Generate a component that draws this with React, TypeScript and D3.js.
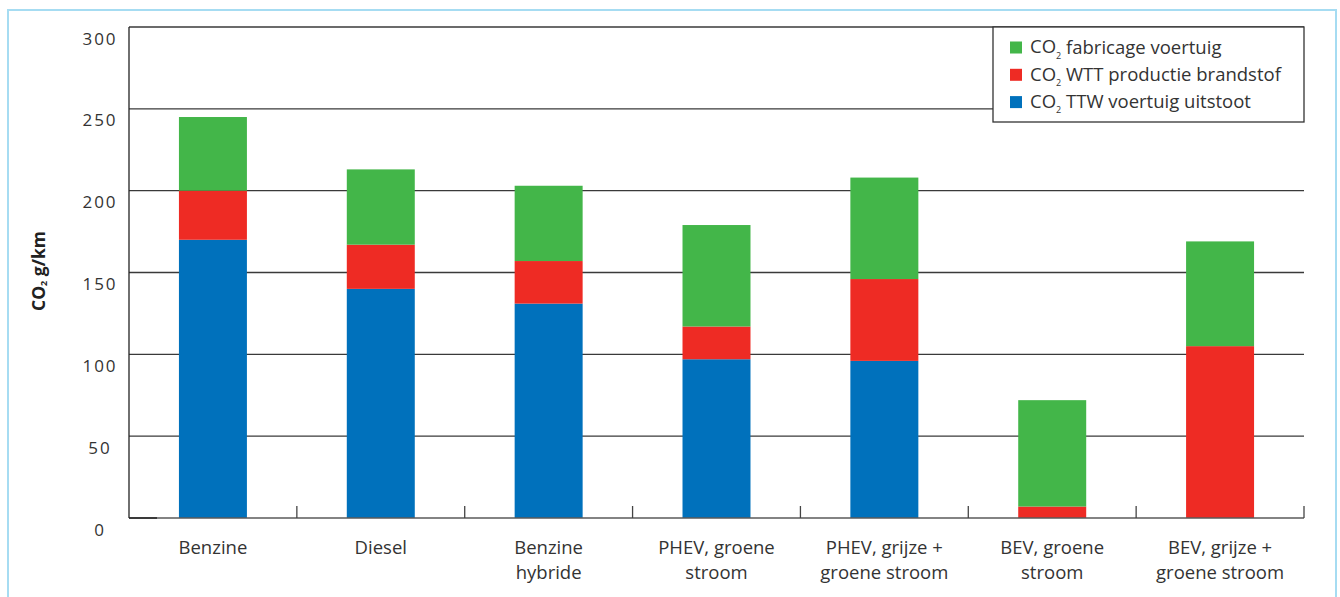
import React from "react";
import * as d3 from "d3";

const categories: string[][] = [
  ["Benzine"],
  ["Diesel"],
  ["Benzine", "hybride"],
  ["PHEV, groene", "stroom"],
  ["PHEV, grijze +", "groene stroom"],
  ["BEV, groene", "stroom"],
  ["BEV, grijze +", "groene stroom"],
];
const ttw = [170, 140, 131, 97, 96, 0, 0];
const wtt = [30, 27, 26, 20, 50, 7, 105];
const fab = [45, 46, 46, 62, 62, 65, 64];
const yTicks = [0, 50, 100, 150, 200, 250, 300];

const seriesKeys = ["ttw", "wtt", "fab"];
const seriesColors: Record<string, string> = { ttw: "#0071bc", wtt: "#ee2b24", fab: "#43b649" };
const legendItems = [
  { key: "fab", label: "fabricage voertuig" },
  { key: "wtt", label: "WTT productie brandstof" },
  { key: "ttw", label: "TTW voertuig uitstoot" },
];

const W = 1340;
const H = 597;
const left = 129;
const right = 1304;
const top = 27;
const bottom = 518;
const font = "'Open Sans', 'Noto Sans', sans-serif";

export default function App() {
  const rows = categories.map((c, i) => ({ name: c.join(" "), ttw: ttw[i], wtt: wtt[i], fab: fab[i] }));
  const stack = d3.stack<any>().keys(seriesKeys);
  const stacked = stack(rows);
  const x = d3.scaleBand<string>().domain(rows.map((r) => r.name)).range([left, right]).paddingInner(0).paddingOuter(0);
  const y = d3.scaleLinear().domain([0, 300]).range([bottom, top]);
  const bw = x.bandwidth() * 0.405;

  return (
    <svg width={W} height={H} style={{ position: "absolute", left: 0, top: 0, background: "#fff" }} fontFamily={font}>
      <rect x={8} y={10} width={1328} height={600} fill="none" stroke="#a6dcf2" strokeWidth={2} />
      {/* gridlines */}
      {yTicks.filter((t) => t > 0).map((t) => (
        <line key={t} x1={left} x2={right} y1={y(t)} y2={y(t)} stroke="#3a3a3a" strokeWidth={1.4} />
      ))}
      {/* bars */}
      {stacked.map((s) => (
        <g key={s.key} fill={seriesColors[s.key]}>
          {s.map((d, i) => {
            const h = y(d[0]) - y(d[1]);
            if (h <= 0) return null;
            return <rect key={i} x={x(rows[i].name)! + (x.bandwidth() - bw) / 2} y={y(d[1])} width={bw} height={h} />;
          })}
        </g>
      ))}
      {/* axes */}
      <line x1={left} x2={right} y1={bottom} y2={bottom} stroke="#5a5a5a" strokeWidth={1.5} />
      <line x1={left} x2={left + 28} y1={bottom} y2={bottom} stroke="#222" strokeWidth={1.5} />
      <line x1={left} x2={left} y1={top} y2={bottom} stroke="#222" strokeWidth={1.3} />
      {rows.map((r, i) => (
        <line key={i} x1={x(r.name)! + x.bandwidth()} x2={x(r.name)! + x.bandwidth()} y1={bottom - 12} y2={bottom} stroke="#444" strokeWidth={1.3} />
      ))}
      {/* y tick labels */}
      {yTicks.map((t) => (
        <text key={t} x={100} y={y(t) + 13} textAnchor="middle" dominantBaseline="middle" fontSize={17} letterSpacing={2} fill="#333">
          {t}
        </text>
      ))}
      {/* y title */}
      <text transform={`translate(40,271) rotate(-90)`} textAnchor="middle" dominantBaseline="middle" fontSize={17.5} fontWeight="bold" fill="#222">
        CO<tspan fontSize={9} dy={5}>2</tspan><tspan dy={-5}> g/km</tspan>
      </text>
      {/* x labels */}
      {rows.map((r, i) => (
        <text key={i} x={x(r.name)! + x.bandwidth() / 2} textAnchor="middle" fontSize={18.5} fill="#333">
          {categories[i].map((l, j) => (
            <tspan key={j} x={x(r.name)! + x.bandwidth() / 2} y={554 + j * 25}>{l}</tspan>
          ))}
        </text>
      ))}
      {/* legend */}
      <rect x={993} y={top} width={right - 993} height={95} fill="#fff" stroke="#333" strokeWidth={1.3} />
      {legendItems.map((it, i) => (
        <g key={it.key} transform={`translate(1010,${47.5 + i * 27.3})`}>
          <rect x={0} y={-6} width={12} height={12} fill={seriesColors[it.key]} />
          <text x={20} y={1} dominantBaseline="middle" fontSize={18.5} fill="#333">
            CO<tspan fontSize={9} dy={8}>2</tspan><tspan dy={-8}> {it.label}</tspan>
          </text>
        </g>
      ))}
    </svg>
  );
}
